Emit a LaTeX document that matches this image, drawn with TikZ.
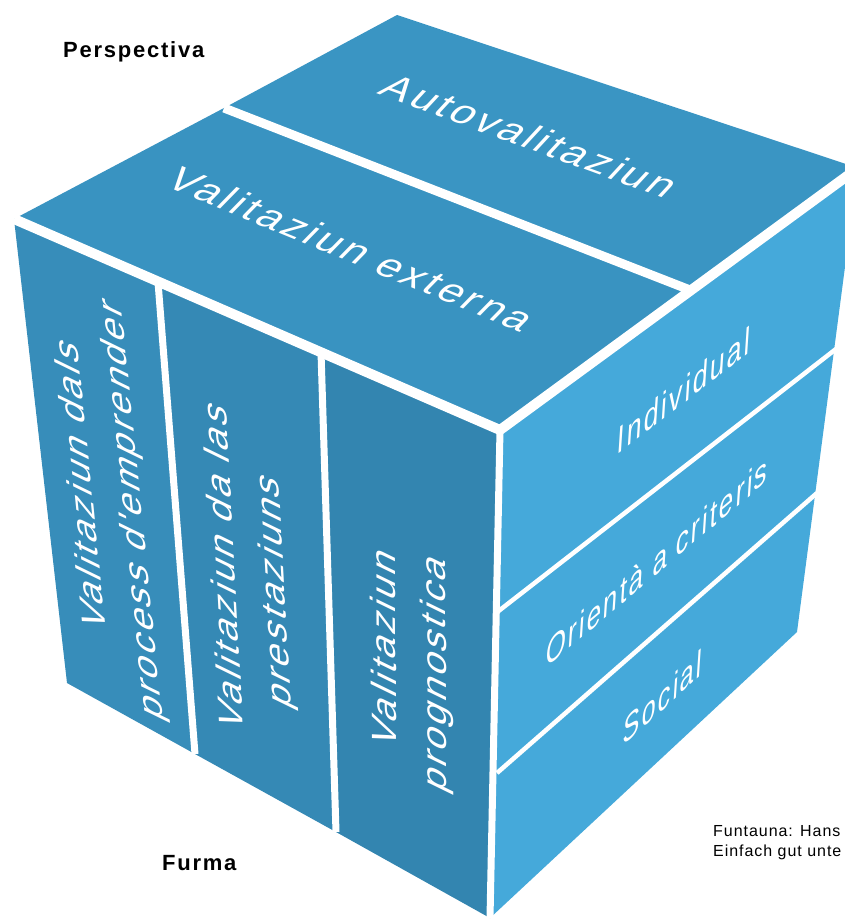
\documentclass[tikz,border=0pt]{standalone}
\usepackage{fontspec}
\setmainfont{Liberation Sans}
\newfontfamily\lblfont[LetterSpace=8]{Liberation Sans}
\newfontfamily\srcfont[LetterSpace=6]{Liberation Sans}
\newfontfamily\facefont[LetterSpace=8]{Liberation Sans}
\definecolor{topA}{HTML}{3A95C3}
\definecolor{topB}{HTML}{3993C1}
\definecolor{colA}{HTML}{378DBA}
\definecolor{colB}{HTML}{3589B5}
\definecolor{colC}{HTML}{3385B0}
\definecolor{rightF}{HTML}{45A9DA}
\begin{document}
\begin{tikzpicture}[x=1pt,y=-1pt,
  gapline/.style={draw=white,line cap=butt},
  facetext/.style={text=white,inner sep=0pt,transform shape,align=center,
    font=\facefont\fontsize{39}{56}\selectfont},
  axislabel/.style={inner sep=0pt,anchor=base west,
    font=\lblfont\bfseries\fontsize{22}{26}\selectfont},
  srclabel/.style={inner sep=0pt,anchor=north west,align=left,
    font=\srcfont\fontsize{16}{20}\selectfont}]
\useasboundingbox (0,0) rectangle (845,920);
\clip (0,0) rectangle (845,920);
% cube corners
\coordinate (T) at (397,15);
\coordinate (R) at (858,168);
\coordinate (F) at (500,430);
\coordinate (L) at (14,219);
\coordinate (FB) at (490,918);
\coordinate (LB) at (67,683);
\coordinate (RB) at (797,632);
% top face strip split
\coordinate (S1) at (224,108);
\coordinate (S2) at (690,290);
% left face columns
\coordinate (C1t) at (158,282);
\coordinate (C1b) at (195,754);
\coordinate (C2t) at (321,352);
\coordinate (C2b) at (336,832);
% right face strips
\coordinate (P1) at (496,613);
\coordinate (Q1) at (836,349);
\coordinate (P2) at (497,773);
\coordinate (Q2) at (817,493);
% faces
\fill[topA] (T) -- (R) -- (S2) -- (S1) -- cycle;
\fill[topB] (S1) -- (S2) -- (F) -- (L) -- cycle;
\fill[colA] (L) -- (C1t) -- (C1b) -- (LB) -- cycle;
\fill[colB] (C1t) -- (C2t) -- (C2b) -- (C1b) -- cycle;
\fill[colC] (C2t) -- (F) -- (FB) -- (C2b) -- cycle;
\fill[rightF] (F) -- (R) -- (RB) -- (FB) -- cycle;
% white gaps
\draw[gapline,line width=10pt] (L) -- (F) -- (R);
\draw[gapline,line width=7pt] (F) -- (FB);
\draw[gapline,line width=9pt] (S1) -- (S2);
\draw[gapline,line width=7pt] (C1t) -- (C1b);
\draw[gapline,line width=7pt] (C2t) -- (C2b);
\draw[gapline,line width=4.5pt] (P1) -- (Q1);
\draw[gapline,line width=4.5pt] (P2) -- (Q2);
% top face texts
\begin{scope}[shift={(530,136)},cm={1.014,-0.370,0.68,0.733,(0,0)}]
  \node[facetext] (auto) at (0,0) {Autovalitaziun};
\end{scope}
\begin{scope}[shift={(352,249)},cm={0.999,-0.410,0.70,0.714,(0,0)}]
  \node[facetext] (ext) at (0,0) {Valitaziun externa};
\end{scope}
% left face texts
\begin{scope}[shift={(108,498)},cm={-0.0995,0.995,-0.898,0.439,(0,0)}]
  \node[facetext] (proc) at (0,0) {Valitaziun dals\\process d'emprender};
\end{scope}
\begin{scope}[shift={(251,579)},cm={-0.055,0.998,-0.898,0.439,(0,0)}]
  \node[facetext] (prest) at (0,0) {Valitaziun da las\\prestaziuns};
\end{scope}
\begin{scope}[shift={(412,661)},cm={-0.005,1.0,-0.898,0.439,(0,0)}]
  \node[facetext] (progn) at (0,0) {Valitaziun\\prognostica};
\end{scope}
% right face texts
\begin{scope}[shift={(684,390)},cm={0.689,0.531,0.065,0.998,(0,0)}]
  \node[facetext] (indiv) at (0,0) {Individual};
\end{scope}
\begin{scope}[shift={(657,561)},cm={0.666,0.560,0.065,0.998,(0,0)}]
  \node[facetext] (crit) at (0,0) {Orientà a criteris};
\end{scope}
\begin{scope}[shift={(663,697)},cm={0.646,0.582,0.065,0.998,(0,0)}]
  \node[facetext] (soc) at (0,0) {Social};
\end{scope}
% axis labels and source
\node[axislabel] (persp) at (63,58) {Perspectiva};
\node[axislabel] (furma) at (162,870) {Furma};
\node[srclabel] (src) at (713,825) {Funtauna: Hans\\Einfach gut unte};
\end{tikzpicture}
\end{document}
